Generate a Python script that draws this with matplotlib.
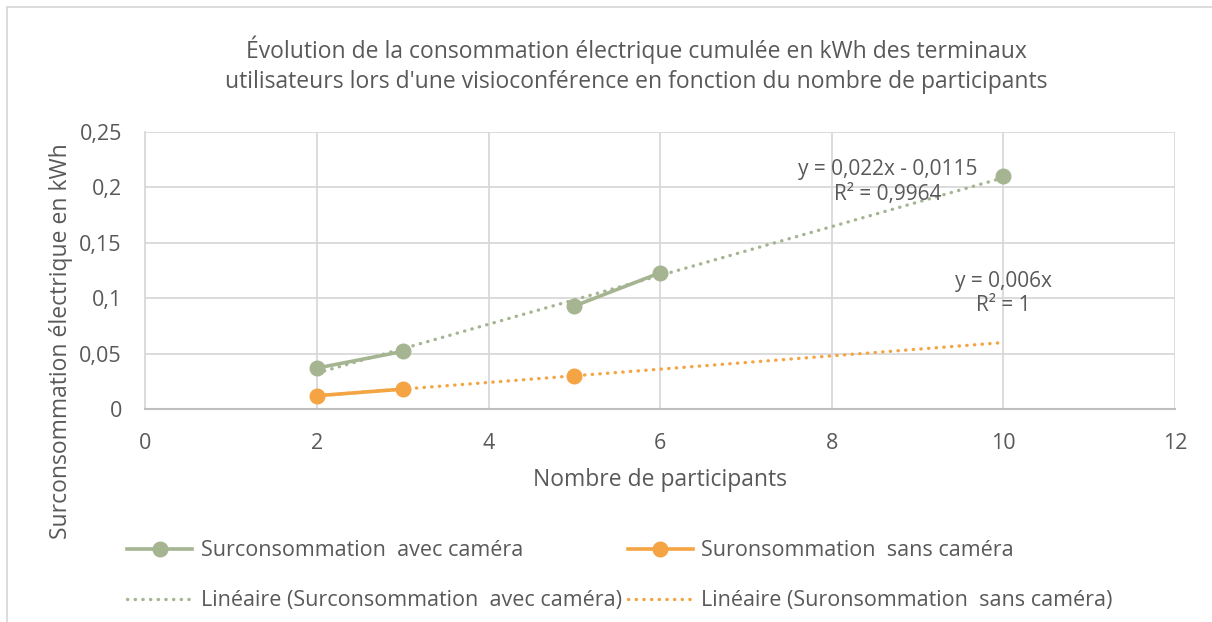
import numpy as np
import matplotlib.pyplot as plt
from matplotlib.patches import Rectangle

# donnees (nan = cellule vide)
participants = [2, 3, 4, 5, 6, 8, 10]
avec_camera = [0.037, 0.052, np.nan, 0.093, 0.123, np.nan, 0.21]
sans_camera = [0.012, 0.018, np.nan, 0.030, np.nan, np.nan, np.nan]

titre = ("Évolution de la consommation électrique cumulée en kWh des terminaux\n"
         "utilisateurs lors d'une visioconférence en fonction du nombre de participants")
eq_avec = "y = 0,022x - 0,0115\nR² = 0,9964"
eq_sans = "y = 0,006x\nR² = 1"

vert = '#a5b592'
orange = '#f4a443'
gris_txt = '#595959'

plt.rcParams['font.family'] = ['Open Sans', 'DejaVu Sans']

fig = plt.figure(figsize=(12.12, 6.22), dpi=100)
ax = fig.add_axes([0.12, 0.3424, 0.8495, 0.4453])

x = np.array(participants, dtype=float)
y1 = np.array(avec_camera)
y2 = np.array(sans_camera)

# courbes de tendance
m1 = ~np.isnan(y1)
a1, b1 = np.polyfit(x[m1], y1[m1], 1)
m2 = ~np.isnan(y2)
a2 = np.sum(x[m2] * y2[m2]) / np.sum(x[m2] ** 2)  # ordonnee a l'origine forcee a 0
xt = np.linspace(x.min(), x.max(), 50)

l1, = ax.plot(x, y1, color=vert, lw=2.6, marker='o', ms=10.5, zorder=3,
              label='Surconsommation  avec caméra')
l2, = ax.plot(x, y2, color=orange, lw=2.6, marker='o', ms=10.5, zorder=3,
              label='Suronsommation  sans caméra')
t1, = ax.plot(xt, a1 * xt + b1, color=vert, lw=2.4, linestyle=(0, (0.1, 2.2)),
              dash_capstyle='round', zorder=2, label='Linéaire (Surconsommation  avec caméra)')
t2, = ax.plot(xt, a2 * xt, color=orange, lw=2.4, linestyle=(0, (0.1, 2.2)),
              dash_capstyle='round', zorder=2, label='Linéaire (Suronsommation  sans caméra)')

ax.text(8.65, 0.205, eq_avec, ha='center', va='center', fontsize=15,
        color=gris_txt, linespacing=1.2)
ax.text(10.0, 0.1045, eq_sans, ha='center', va='center', fontsize=15,
        color=gris_txt, linespacing=1.2)

ax.set_xlim(0, 12)
ax.set_ylim(0, 0.25)
ax.set_xticks(range(0, 13, 2))
yt = [0, 0.05, 0.1, 0.15, 0.2, 0.25]
ax.set_yticks(yt)
ax.set_yticklabels(['0', '0,05', '0,1', '0,15', '0,2', '0,25'])
ax.grid(True, color='#d9d9d9', lw=1.3)
ax.set_axisbelow(True)
for s in ['top', 'right']:
    ax.spines[s].set_visible(False)
ax.spines['left'].set_color('#d9d9d9')
ax.spines['left'].set_linewidth(1.3)
ax.spines['bottom'].set_color('#bfbfbf')
ax.spines['bottom'].set_linewidth(1.5)
ax.tick_params(axis='y', length=0, labelsize=15.5, labelcolor=gris_txt, pad=17)
ax.tick_params(axis='x', length=0, labelsize=15.5, labelcolor=gris_txt, pad=17)

ax.set_xlabel('Nombre de participants', fontsize=16.5, color=gris_txt, labelpad=10)
ax.set_ylabel('Surconsommation électrique en kWh', fontsize=16.5, color=gris_txt)
ax.yaxis.set_label_coords(-0.070, 0.245)
ax.set_title(titre, fontsize=16.5, color=gris_txt, pad=32, linespacing=1.3, x=0.477)

# ordre du legende : ligne par ligne
fig.legend([l1, t1, l2, t2], [l1.get_label(), t1.get_label(), l2.get_label(), t2.get_label()],
           loc='upper left', bbox_to_anchor=(0.098, 0.145), ncol=2, frameon=False,
           fontsize=15.5, labelcolor=gris_txt, handlelength=3.0, columnspacing=0.3,
           labelspacing=1.35, handletextpad=0.4, borderaxespad=0)

# cadre du graphique
fig.patches.append(Rectangle((7 / 1212, -0.01), 1.02, 1 - 7 / 622 + 0.01,
                             transform=fig.transFigure, fill=False,
                             edgecolor='#d9d9d9', lw=1.3))

fig.savefig('out.png', dpi=100)
